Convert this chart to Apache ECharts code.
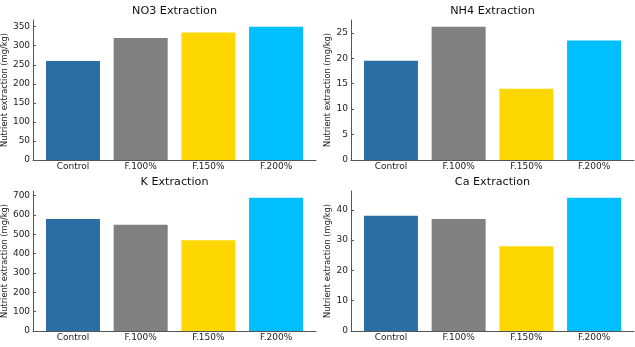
<!DOCTYPE html>
<html>
<head>
<meta charset="utf-8">
<script src="https://cdn.jsdelivr.net/npm/echarts@6/dist/echarts.min.js"></script>
<style>
  html, body { margin: 0; padding: 0; background: #fff; }
  #chart { width: 635px; height: 347px; }
</style>
</head>
<body>
<div id="chart"></div>
<script>
// Treatments shown on every panel
const categories = ['Control', 'F.100%', 'F.150%', 'F.200%'];
const barColors = ['#2b6ea5', '#808080', '#ffd700', '#00bfff'];

// Extracted nutrient per treatment (mg/kg)
const no3Values = [260, 320, 335, 350];
const nh4Values = [19.5, 26.2, 14, 23.5];
const kValues = [580, 550, 470, 690];
const caValues = [38, 37, 28, 44];

// Y tick labels per panel
const no3Ticks = [0, 50, 100, 150, 200, 250, 300, 350];
const nh4Ticks = [0, 5, 10, 15, 20, 25];
const kTicks = [0, 100, 200, 300, 400, 500, 600, 700];
const caTicks = [0, 10, 20, 30, 40];

const panels = [
  { title: 'NO3 Extraction', values: no3Values, ticks: no3Ticks, left: 33, top: 20, width: 283, nameGap: 23 },
  { title: 'NH4 Extraction', values: nh4Values, ticks: nh4Ticks, left: 351, top: 20, width: 283, nameGap: 19 },
  { title: 'K Extraction', values: kValues, ticks: kTicks, left: 33, top: 191, width: 283, nameGap: 23 },
  { title: 'Ca Extraction', values: caValues, ticks: caTicks, left: 351, top: 191, width: 283, nameGap: 19 }
];

const FONT = 'DejaVu Sans';
const axisColor = '#555';
const textColor = '#222';
const idx = categories.map((_, i) => i);

const option = {
  backgroundColor: '#fff',
  animation: false,
  title: [],
  grid: [],
  xAxis: [],
  yAxis: [],
  series: []
};

panels.forEach((p, k) => {
  option.title.push({
    text: p.title,
    left: p.left + p.width / 2,
    top: p.top - 14,
    textAlign: 'center',
    padding: 0,
    textStyle: { fontFamily: FONT, fontSize: 11.2, fontWeight: 'normal', color: '#111' }
  });
  option.grid.push({ left: p.left, top: p.top, width: p.width, height: 140, containLabel: false });
  option.xAxis.push({
    type: 'value',
    gridIndex: k,
    min: -0.59,
    max: categories.length - 1 + 0.59,
    splitLine: { show: false },
    axisLine: { show: true, onZero: false, lineStyle: { color: axisColor, width: 1 } },
    axisTick: { show: true, inside: true, length: 3, customValues: idx, lineStyle: { color: axisColor } },
    axisLabel: {
      customValues: idx,
      formatter: v => categories[Math.round(v)] || '',
      margin: 2,
      fontFamily: FONT, fontSize: 9, color: textColor
    }
  });
  option.yAxis.push({
    type: 'value',
    gridIndex: k,
    min: 0,
    max: Math.max(...p.values) * 1.05,
    name: 'Nutrient extraction (mg/kg)',
    nameLocation: 'middle',
    nameGap: p.nameGap,
    nameTextStyle: { fontFamily: FONT, fontSize: 8.3, color: textColor },
    splitLine: { show: false },
    axisLine: { show: true, onZero: false, lineStyle: { color: axisColor, width: 1 } },
    axisTick: { show: true, inside: true, length: 3, customValues: p.ticks, lineStyle: { color: axisColor } },
    axisLabel: {
      customValues: p.ticks,
      margin: 3,
      fontFamily: FONT, fontSize: 9, color: textColor
    }
  });
  option.series.push({
    type: 'bar',
    xAxisIndex: k,
    yAxisIndex: k,
    barWidth: 54,
    data: p.values.map((v, i) => ({
      value: [i, v],
      itemStyle: { color: barColors[i] }
    }))
  });
});

const chart = echarts.init(document.getElementById('chart'), null, { renderer: 'canvas' });
chart.setOption(option);
</script>
</body>
</html>
